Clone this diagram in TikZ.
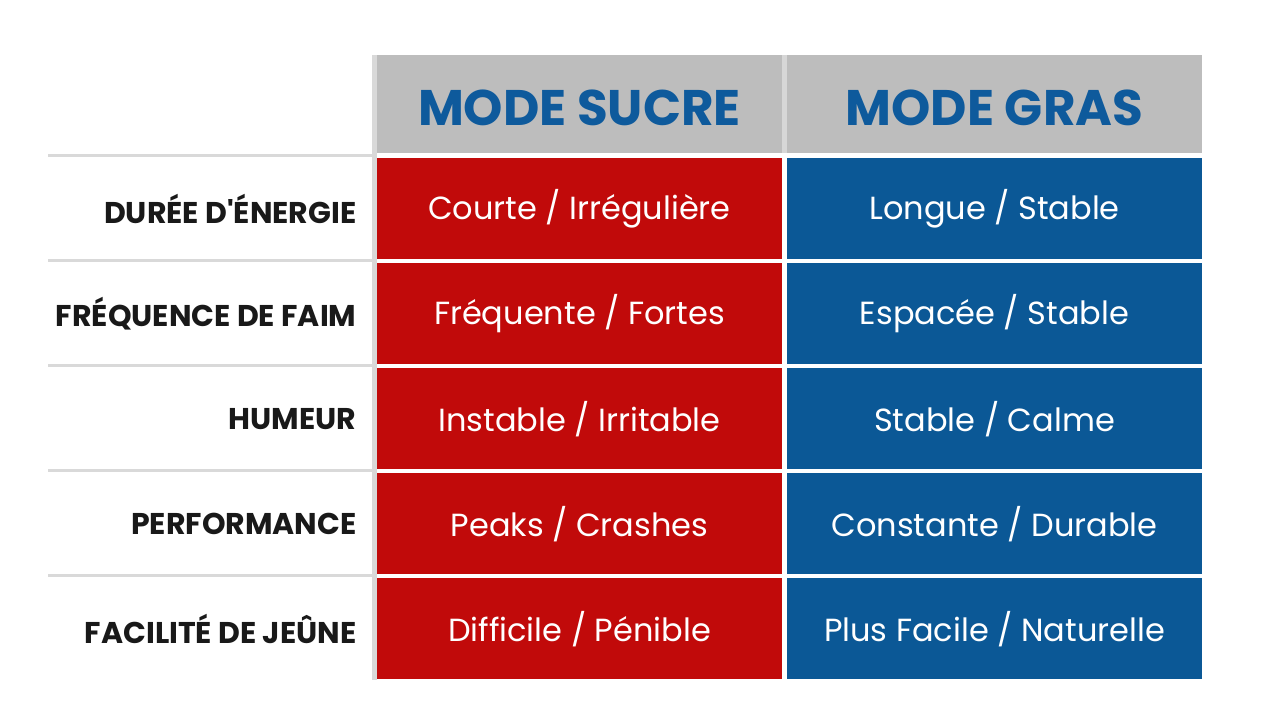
\documentclass[tikz,border=0pt]{standalone}
\usepackage{fontspec}
\setmainfont{Poppins}
\definecolor{red1}{HTML}{C10A0A}
\definecolor{blue1}{HTML}{0B5896}
\definecolor{hdr}{HTML}{BDBDBD}
\definecolor{hdrtxt}{HTML}{0E5A9C}
\definecolor{linec}{HTML}{D9D9D9}
\newcommand\mysl{ / }
\begin{document}
\begin{tikzpicture}[x=1pt,y=-1pt,
 hcell/.style={fill=hdr,draw=none},
 rcell/.style={fill=red1},
 bcell/.style={fill=blue1},
 htxt/.style={font=\fontsize{50}{54}\selectfont\bfseries,text=hdrtxt},
 ctxt/.style={font=\fontsize{32}{36}\selectfont,text=white},
 ltxt/.style={font=\fontsize{30}{32}\selectfont\bfseries,text=black!90,anchor=east}]
\useasboundingbox[fill=white] (0,0) rectangle (1280,720);
\fill[linec] (372,55) rectangle (377,680);
\fill[hcell] (377,55) rectangle (782,153);
\fill[hcell] (787,55) rectangle (1202,153);
\fill[hdr!60] (782,55) rectangle (787,153);
\node[htxt] (h1) at (579.5,108) {MODE SUCRE};
\node[htxt] (h2) at (994.5,108) {MODE GRAS};
\foreach \i/\lab/\a/\b in {
 0/{DURÉE D\textquotesingle ÉNERGIE}/{Courte\mysl Irrégulière}/{Longue\mysl Stable},
 1/{FRÉQUENCE DE FAIM}/{Fréquente\mysl Fortes}/{Espacée\mysl Stable},
 2/{HUMEUR}/{Instable\mysl Irritable}/{Stable\mysl Calme},
 3/{PERFORMANCE}/{Peaks\mysl Crashes}/{Constante\mysl Durable},
 4/{FACILITÉ DE JEÛNE}/{Difficile\mysl Pénible}/{Plus Facile\mysl Naturelle}}{
 \pgfmathsetmacro\ya{158+105*\i}
 \pgfmathsetmacro\yb{\ya+101}
 \pgfmathsetmacro\ym{\ya+51}
 \fill[linec] (48,\ya-4) rectangle (377,\ya-1);
 \fill[rcell] (377,\ya) rectangle (782,\yb);
 \fill[bcell] (787,\ya) rectangle (1202,\yb);
 \node[ltxt] (l\i) at (360,\ym) {\lab};
 \node[ctxt] (a\i) at (579.5,\ym) {\a};
 \node[ctxt] (b\i) at (994.5,\ym) {\b};
}
\end{tikzpicture}
\end{document}
